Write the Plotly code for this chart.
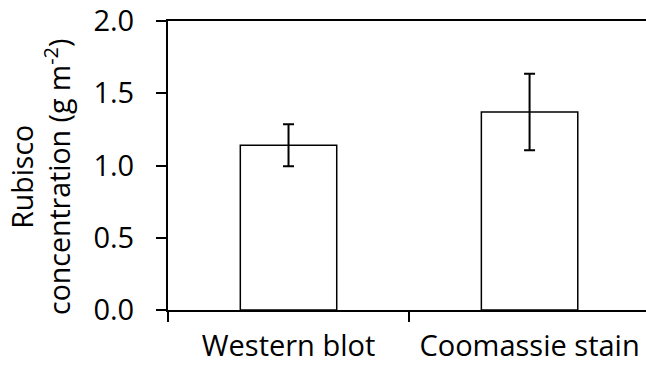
import plotly.graph_objects as go

# Rubisco content measured by two quantification methods
methods = ["Western blot", "Coomassie stain"]
rubisco_mean = [1.14, 1.37]
rubisco_err = [0.145, 0.265]
y_ticks = [0.0, 0.5, 1.0, 1.5, 2.0]
y_tick_text = ["0.0", "0.5", "1.0", "1.5", "2.0"]

FONT = "Open Sans"
FSIZE = 29

fig = go.Figure(
    go.Bar(
        x=methods,
        y=rubisco_mean,
        width=0.4,
        marker=dict(color="white", line=dict(color="black", width=1.5)),
        error_y=dict(type="data", array=rubisco_err, visible=True,
                     color="black", thickness=2, width=5.5),
    )
)

fig.update_layout(
    width=646,
    height=367,
    margin=dict(l=168, r=0, t=21, b=57),
    paper_bgcolor="white",
    plot_bgcolor="white",
    showlegend=False,
    font=dict(family=FONT, size=FSIZE, color="black"),
    annotations=[
        dict(
            text="Rubisco<br>concentration (g m<sup>-2</sup>)",
            textangle=-90,
            xref="paper", yref="paper",
            x=-0.268, y=0.46,
            xanchor="center", yanchor="middle",
            showarrow=False,
            font=dict(family=FONT, size=28.5, color="black"),
        )
    ],
)

fig.update_xaxes(
    range=[-0.5, 1.483],
    showline=True, linecolor="black", linewidth=2, mirror=True,
    ticks="outside", tickson="boundaries", ticklen=10, tickwidth=1.5,
    tickcolor="black", ticklabelstandoff=9,
    showgrid=False, zeroline=False,
)

fig.update_yaxes(
    range=[0, 2.0],
    tickvals=y_ticks, ticktext=y_tick_text,
    showline=True, linecolor="black", linewidth=2,
    ticks="outside", ticklen=10, tickwidth=1.5, tickcolor="black",
    ticklabelstandoff=16,
    showgrid=False, zeroline=False,
)

fig.write_html("out.html")
